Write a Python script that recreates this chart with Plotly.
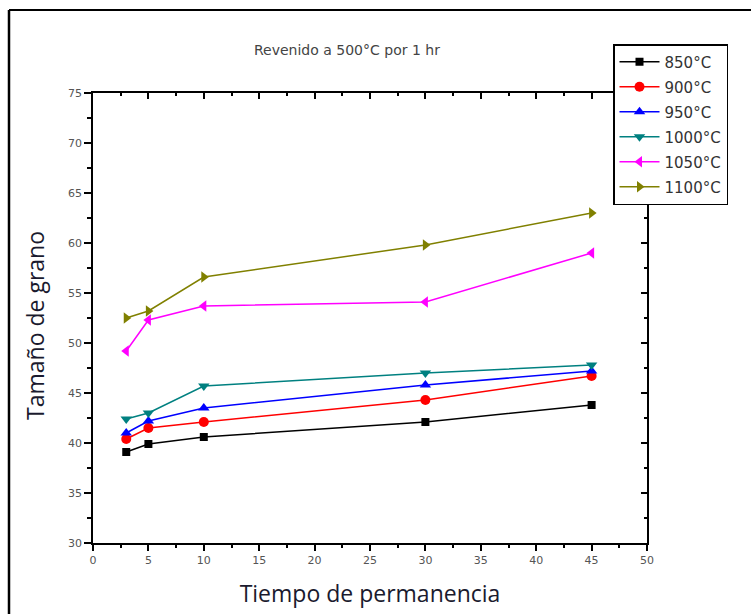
import plotly.graph_objects as go

tiempo = [3, 5, 10, 30, 45]
serie_850 = [39.1, 39.9, 40.6, 42.1, 43.8]
serie_900 = [40.4, 41.5, 42.1, 44.3, 46.7]
serie_950 = [41.0, 42.2, 43.5, 45.8, 47.2]
serie_1000 = [42.4, 43.0, 45.7, 47.0, 47.8]
serie_1050 = [49.2, 52.3, 53.7, 54.1, 59.0]
serie_1100 = [52.5, 53.2, 56.6, 59.8, 63.0]

nombres = ["850°C", "900°C", "950°C", "1000°C", "1050°C", "1100°C"]
series = [serie_850, serie_900, serie_950, serie_1000, serie_1050, serie_1100]
colores = ["#000000", "#FF0000", "#0000FF", "#008080", "#FF00FF", "#808000"]
simbolos = ["square", "circle", "triangle-up", "triangle-down", "triangle-left", "triangle-right"]

W, H = 751, 614
L, R, T, B = 93, 647, 93, 543

def px(xp):
    return (xp - L) / (R - L)

def py(yp):
    return (B - yp) / (B - T)

fig = go.Figure()
for n, s, c, m in zip(nombres, series, colores, simbolos):
    fig.add_trace(go.Scatter(
        x=tiempo, y=s, name=n, mode="lines+markers", legendgroup=n,
        line=dict(color=c, width=1.5),
        marker=dict(symbol=m, size=10 if m != "square" else 8, color=c),
    ))

# invisible trace for the mirror axes
fig.add_trace(go.Scatter(x=[0], y=[30], xaxis="x2", yaxis="y2", mode="markers",
                         marker=dict(opacity=0), showlegend=False, hoverinfo="skip"))

tick_font = dict(family="DejaVu Sans", size=11, color="#555555")
title_font = dict(family="Open Sans, Noto Sans, sans-serif", size=23, color="#1a1a2e")

fig.update_layout(
    width=W, height=H,
    margin=dict(l=L, r=W - R, t=T, b=H - B),
    paper_bgcolor="white", plot_bgcolor="white",
    showlegend=True,
    legend=dict(
        x=px(613), y=py(44), xanchor="left", yanchor="top",
        bgcolor="white", bordercolor="black", borderwidth=1.5,
        font=dict(family="DejaVu Sans", size=15, color="#333333"),
        traceorder="grouped", tracegroupgap=2.5, itemwidth=40,
    ),
    xaxis=dict(
        range=[0, 50], tickmode="linear", tick0=0, dtick=5,
        showline=True, linecolor="black", linewidth=1.5,
        ticks="outside", ticklen=6, tickwidth=1.5, tickcolor="black",
        minor=dict(ticks="outside", ticklen=3, dtick=2.5, tickcolor="black", tickwidth=1.5),
        showgrid=False, zeroline=False, tickfont=tick_font,
        title=dict(text="Tiempo de permanencia", font=title_font, standoff=20),
    ),
    yaxis=dict(
        range=[30, 75], tickmode="linear", tick0=30, dtick=5,
        showline=True, linecolor="black", linewidth=1.5,
        ticks="outside", ticklen=7, tickwidth=1.5, tickcolor="black",
        minor=dict(ticks="outside", ticklen=4, dtick=2.5, tickcolor="black", tickwidth=1.5),
        showgrid=False, zeroline=False, tickfont=tick_font,
    ),
    xaxis2=dict(
        range=[0, 50], overlaying="x", side="top", anchor="y2",
        tickmode="linear", tick0=0, dtick=5, showticklabels=False,
        showline=True, linecolor="black", linewidth=1.5,
        ticks="inside", ticklen=6, tickwidth=1.5, tickcolor="black",
        minor=dict(ticks="inside", ticklen=3, dtick=2.5, tickcolor="black", tickwidth=1.5),
        showgrid=False, zeroline=False,
    ),
    yaxis2=dict(
        range=[30, 75], overlaying="y", side="right", anchor="x2",
        tickmode="linear", tick0=30, dtick=5, showticklabels=False,
        showline=True, linecolor="black", linewidth=1.5,
        ticks="inside", ticklen=6, tickwidth=1.5, tickcolor="black",
        minor=dict(ticks="inside", ticklen=3, dtick=2.5, tickcolor="black", tickwidth=1.5),
        showgrid=False, zeroline=False,
    ),
    annotations=[
        dict(
            text="Revenido a 500°C por 1 hr", xref="paper", yref="paper",
            x=px(347), y=py(50), xanchor="center", yanchor="middle", showarrow=False,
            font=dict(family="DejaVu Sans", size=14, color="#444444"),
        ),
        dict(
            text="Tamaño de grano", xref="paper", yref="paper",
            x=px(35), y=py(326), xanchor="center", yanchor="middle", showarrow=False,
            textangle=-90, font=title_font,
        ),
    ],
    shapes=[
        dict(type="line", xref="paper", yref="paper", x0=px(9), x1=px(760), y0=py(10), y1=py(10),
             line=dict(color="black", width=2)),
        dict(type="line", xref="paper", yref="paper", x0=px(9), x1=px(9), y0=py(10), y1=py(620),
             line=dict(color="black", width=2.5)),
    ],
)

fig.write_html("out.html")
